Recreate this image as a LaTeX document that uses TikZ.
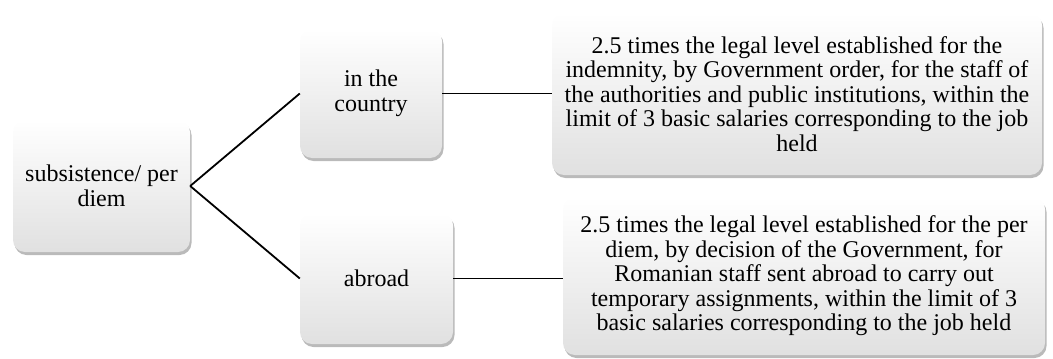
\documentclass[tikz,border=0pt]{standalone}
\usepackage{fontspec}
\setmainfont{Liberation Serif}
\newfontfamily\tnr{Liberation Serif}
\usetikzlibrary{shadows}
\begin{document}
\begin{tikzpicture}[x=1pt,y=-1pt,
  box/.style={draw=none, rounded corners=12pt, top color=white, bottom color=black!12,
    drop shadow={shadow xshift=1.5pt, shadow yshift=-3pt, opacity=0.45, fill=black!60},
    align=center, inner sep=2pt,
    font=\tnr\fontsize{24}{24.5}\selectfont},
  conn/.style={draw=black, line width=1.8pt}]
\useasboundingbox (0,0) rectangle (1053,359);
\node[box, minimum width=177pt, minimum height=132pt] (root) at (101.5,186) {subsistence/ per\\diem};
\node[box, minimum width=142pt, minimum height=129pt] (country) at (371,93.5) {in the\\country};
\node[box, minimum width=153pt, minimum height=131pt] (abroad) at (376.5,278.5) {abroad};
\node[box, minimum width=490pt, minimum height=162pt] (tr) at (797,94) {2.5 times the legal level established for the\\indemnity, by Government order, for the staff of\\the authorities and public institutions, within the\\limit of 3 basic salaries corresponding to the job\\held};
\node[box, minimum width=482pt, minimum height=158pt] (br) at (804,276) {2.5 times the legal level established for the per\\diem, by decision of the Government, for\\Romanian staff sent abroad to carry out\\temporary assignments, within the limit of 3\\basic salaries corresponding to the job held};
\draw[conn] (root.east) -- (country.west);
\draw[conn] (root.east) -- (abroad.west);
\draw[conn] (country.east) -- (country.east -| tr.west);
\draw[conn] (abroad.east) -- (abroad.east -| br.west);
\end{tikzpicture}
\end{document}
